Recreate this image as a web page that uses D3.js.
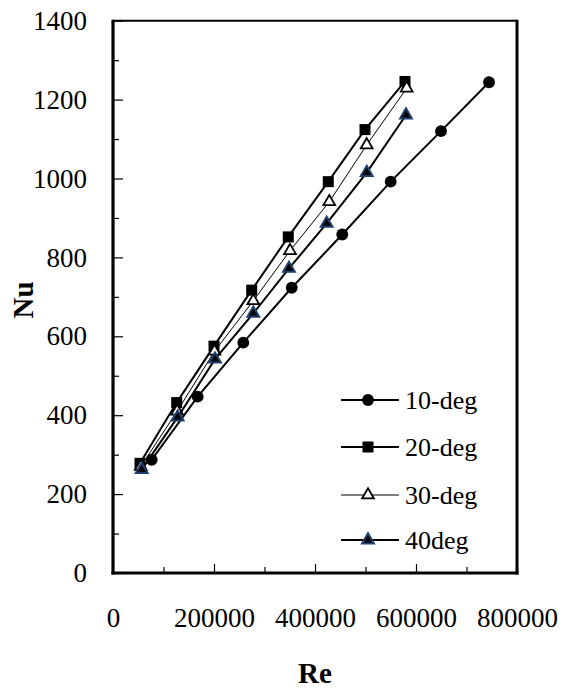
<!DOCTYPE html>
<html>
<head>
<meta charset="utf-8">
<script src="https://cdnjs.cloudflare.com/ajax/libs/d3/7.8.5/d3.min.js"></script>
<style>
  body { margin: 0; background: #fff; }
  svg text { font-family: "Times New Roman", "Liberation Serif", serif; fill: #000; }
</style>
</head>
<body>
<script>
// series values
var re10 = [76600, 167700, 258000, 353900, 454000, 549900, 649500, 744600];
var nu10 = [287, 447, 584, 723, 858, 992, 1120, 1244];
var re20 = [53500, 126100, 200000, 274600, 347100, 426300, 499000, 578200];
var nu20 = [278, 432, 575, 717, 852, 992, 1124, 1246];
var re30 = [55000, 127000, 201000, 277800, 350500, 428300, 502400, 581600];
var nu30 = [270, 410, 562, 690, 817, 941, 1085, 1229];
var re40 = [56800, 128100, 202000, 277800, 348500, 423100, 502400, 580200];
var nu40 = [262, 395, 542, 658, 772, 886, 1015, 1161];

var seriesNames = ["10-deg", "20-deg", "30-deg", "40deg"];
var xTicks = [0, 200000, 400000, 600000, 800000];
var yTicks = [0, 200, 400, 600, 800, 1000, 1200, 1400];

var w = 572, h = 688;
var svg = d3.select("body").append("svg")
  .attr("width", w)
  .attr("height", h);

var x = d3.scaleLinear().domain([0, 800000]).range([113, 517]);
var y = d3.scaleLinear().domain([0, 1400]).range([573, 20.7]);

// minor ticks
var xMinor = d3.range(100000, 800000, 200000);
var yMinor = d3.range(100, 1400, 200);

svg.append("g")
  .attr("transform", "translate(0,573)")
  .call(d3.axisBottom(x).tickValues(xMinor).tickSize(-6).tickFormat(""))
  .call(function(g) { g.select(".domain").remove(); })
  .selectAll("line").attr("stroke-width", 1.2);

svg.append("g")
  .attr("transform", "translate(113,0)")
  .call(d3.axisLeft(y).tickValues(yMinor).tickSize(-6).tickFormat(""))
  .call(function(g) { g.select(".domain").remove(); })
  .selectAll("line").attr("stroke-width", 1.2);

var xAxis = svg.append("g")
  .attr("transform", "translate(0,573)")
  .call(d3.axisBottom(x).tickValues(xTicks).tickSize(-9).tickPadding(35).tickFormat(d3.format("d")));
xAxis.select(".domain").remove();
xAxis.selectAll("line").attr("stroke-width", 1.2);
xAxis.selectAll("text").style("font-size", "27px");

var yAxis = svg.append("g")
  .attr("transform", "translate(113,0)")
  .call(d3.axisLeft(y).tickValues(yTicks).tickSize(-10).tickPadding(26).tickFormat(d3.format("d")));
yAxis.select(".domain").remove();
yAxis.selectAll("line").attr("stroke-width", 1.2);
yAxis.selectAll("text").style("font-size", "27px");

// frame
var frame = svg.append("g").attr("stroke", "#000").attr("fill", "none");
frame.append("line").attr("x1", x(0)).attr("x2", x(800000)).attr("y1", y(1400)).attr("y2", y(1400)).attr("stroke-width", 2);
frame.append("line").attr("x1", x(800000)).attr("x2", x(800000)).attr("y1", y(1400) - 1).attr("y2", y(0) + 1.5).attr("stroke-width", 3);
frame.append("line").attr("x1", x(0)).attr("x2", x(0)).attr("y1", y(1400) - 1).attr("y2", y(0) + 1.5).attr("stroke-width", 3.2);
frame.append("line").attr("x1", x(0) - 1.5).attr("x2", x(800000) + 1.5).attr("y1", y(0)).attr("y2", y(0)).attr("stroke-width", 3.2);

// axis titles
svg.append("text")
  .attr("x", x(400000))
  .attr("y", 683)
  .attr("text-anchor", "middle")
  .style("font-size", "29px")
  .style("font-weight", "bold")
  .text("Re");

svg.append("text")
  .attr("transform", "translate(33,300) rotate(-90)")
  .attr("text-anchor", "middle")
  .style("font-size", "29px")
  .style("font-weight", "bold")
  .text("Nu");

var series = [
  { name: seriesNames[0], re: re10, nu: nu10, type: d3.symbolCircle, size: 110, fill: "#000", stroke: "none", sw: 0, lw: 2 },
  { name: seriesNames[1], re: re20, nu: nu20, type: d3.symbolSquare, size: 121, fill: "#000", stroke: "none", sw: 0, lw: 2 },
  { name: seriesNames[2], re: re30, nu: nu30, type: d3.symbolTriangle, size: 60, fill: "#fff", stroke: "#000", sw: 1.8, lw: 1 },
  { name: seriesNames[3], re: re40, nu: nu40, type: d3.symbolTriangle, size: 60, fill: "#000", stroke: "#1F3F6E", sw: 2, lw: 2 }
];

var line = d3.line()
  .x(function(d) { return x(d[0]); })
  .y(function(d) { return y(d[1]); });

series.forEach(function(s) {
  var pts = s.re.map(function(v, i) { return [v, s.nu[i]]; });
  var g = svg.append("g");
  g.append("path")
    .attr("d", line(pts))
    .attr("fill", "none")
    .attr("stroke", "#000")
    .attr("stroke-width", s.lw);
  g.selectAll("path.mk").data(pts).enter().append("path")
    .attr("class", "mk")
    .attr("transform", function(d) { return "translate(" + x(d[0]) + "," + y(d[1]) + ")"; })
    .attr("d", d3.symbol().type(s.type).size(s.size))
    .attr("fill", s.fill)
    .attr("stroke", s.stroke)
    .attr("stroke-width", s.sw);
});

// legend
var legend = svg.append("g");
var rowY = [400, 447, 495, 540];
series.forEach(function(s, i) {
  var r = legend.append("g").attr("transform", "translate(0," + rowY[i] + ")");
  r.append("line").attr("x1", 341).attr("x2", 399).attr("y1", 0).attr("y2", 0)
    .attr("stroke", "#000").attr("stroke-width", s.lw);
  r.append("path")
    .attr("transform", "translate(368,0)")
    .attr("d", d3.symbol().type(s.type).size(s.size))
    .attr("fill", s.fill)
    .attr("stroke", s.stroke)
    .attr("stroke-width", s.sw);
  r.append("text")
    .attr("x", 405)
    .attr("dy", "0.33em")
    .style("font-size", "26px")
    .text(s.name);
});
</script>
</body>
</html>
